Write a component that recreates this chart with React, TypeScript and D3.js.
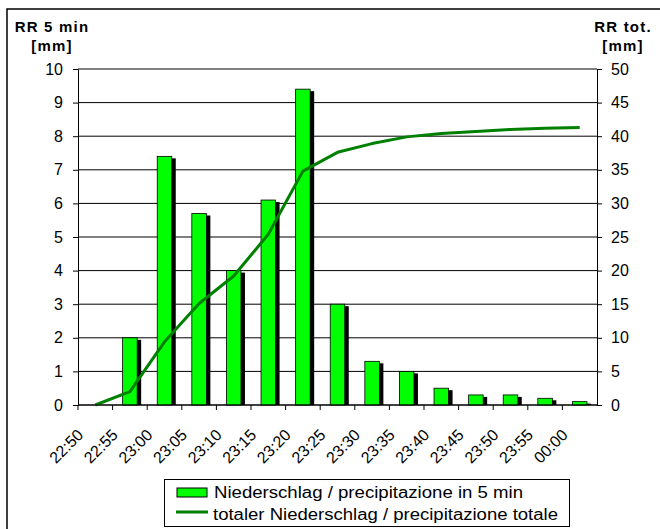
import React, { useRef, useEffect } from 'react';
import * as d3 from 'd3';

// time slots (5 min steps)
const slots = ['22:50', '22:55', '23:00', '23:05', '23:10', '23:15', '23:20', '23:25', '23:30', '23:35', '23:40', '23:45', '23:50', '23:55', '00:00'];
// precipitation per 5 min [mm]
const rr5 = [0, 2.0, 7.4, 5.7, 4.0, 6.1, 9.4, 3.0, 1.3, 1.0, 0.5, 0.3, 0.3, 0.2, 0.1];
// total precipitation [mm]
const rrTot = [0, 2.0, 9.4, 15.1, 19.2, 25.4, 34.8, 37.6, 38.9, 39.9, 40.4, 40.7, 41.0, 41.2, 41.3];

const leftTicks = [0, 1, 2, 3, 4, 5, 6, 7, 8, 9, 10];
const rightTicks = [0, 5, 10, 15, 20, 25, 30, 35, 40, 45, 50];

const legendLabels = ['Niederschlag / precipitazione in 5 min', 'totaler Niederschlag / precipitazione totale'];

const BAR_GREEN = '#00ff00';
const LINE_GREEN = '#008000';
const FONT = '"Liberation Sans", Arial, sans-serif';

const App = () => {
  const svgRef = useRef<SVGSVGElement>(null);

  useEffect(() => {
    const svg = d3.select(svgRef.current);
    svg.selectAll('*').remove();

    const W = 660, H = 529;
    const plot = { left: 78, right: 597, top: 69, bottom: 405 };

    // outer frame
    svg.append('rect')
      .attr('x', 7).attr('y', 9)
      .attr('width', W).attr('height', H)
      .attr('fill', 'white')
      .attr('stroke', '#000')
      .attr('stroke-width', 1.5);

    const x = d3.scaleBand<string>()
      .domain(slots)
      .range([plot.left, plot.right])
      .paddingInner(0)
      .paddingOuter(0);

    const yL = d3.scaleLinear().domain([0, 10]).range([plot.bottom, plot.top]);
    const yR = d3.scaleLinear().domain([0, 50]).range([plot.bottom, plot.top]);

    // gridlines
    svg.append('g')
      .selectAll('line')
      .data(leftTicks)
      .enter()
      .append('line')
      .attr('x1', plot.left)
      .attr('x2', plot.right)
      .attr('y1', d => yL(d))
      .attr('y2', d => yL(d))
      .attr('stroke', '#000')
      .attr('stroke-width', 1);

    // bars with shadow
    const bw = x.bandwidth() * 0.42;
    const bars = svg.append('g');
    const barData = slots.map((s, i) => ({ s, v: rr5[i] })).filter(d => d.v > 0);

    bars.selectAll('.shadow')
      .data(barData)
      .enter()
      .append('rect')
      .attr('class', 'shadow')
      .attr('x', d => (x(d.s) as number) + x.bandwidth() / 2 - bw / 2 + 4)
      .attr('y', d => yL(d.v) + 2)
      .attr('width', bw)
      .attr('height', d => Math.max(0, plot.bottom - yL(d.v) - 2))
      .attr('fill', '#000');

    bars.selectAll('.bar')
      .data(barData)
      .enter()
      .append('rect')
      .attr('class', 'bar')
      .attr('x', d => (x(d.s) as number) + x.bandwidth() / 2 - bw / 2)
      .attr('y', d => yL(d.v))
      .attr('width', bw)
      .attr('height', d => plot.bottom - yL(d.v))
      .attr('fill', BAR_GREEN)
      .attr('stroke', '#000')
      .attr('stroke-width', 0.8);

    // total line
    const line = d3.line<number>()
      .x((d, i) => (x(slots[i]) as number) + x.bandwidth() / 2)
      .y(d => yR(d));

    svg.append('path')
      .datum(rrTot)
      .attr('d', line)
      .attr('fill', 'none')
      .attr('stroke', LINE_GREEN)
      .attr('stroke-width', 3)
      .attr('stroke-linejoin', 'round');

    // left axis
    const gL = svg.append('g')
      .attr('transform', `translate(${plot.left},0)`)
      .call(d3.axisLeft(yL).tickValues(leftTicks).tickSize(5).tickSizeOuter(0).tickPadding(10));
    gL.select('.domain').attr('stroke', '#000');
    gL.selectAll('text').style('font-size', '16px').style('font-family', FONT).style('fill', '#000');

    // right axis
    const gR = svg.append('g')
      .attr('transform', `translate(${plot.right},0)`)
      .call(d3.axisRight(yR).tickValues(rightTicks).tickSize(5).tickSizeOuter(0).tickPadding(9));
    gR.select('.domain').attr('stroke', '#000');
    gR.selectAll('text').style('font-size', '16px').style('font-family', FONT).style('fill', '#000');

    // bottom axis: ticks at category boundaries
    const gB = svg.append('g');
    gB.append('line')
      .attr('x1', plot.left).attr('x2', plot.right)
      .attr('y1', plot.bottom).attr('y2', plot.bottom)
      .attr('stroke', '#000');
    gB.selectAll('.tick')
      .data(slots)
      .enter()
      .append('line')
      .attr('x1', d => x(d) as number)
      .attr('x2', d => x(d) as number)
      .attr('y1', plot.bottom)
      .attr('y2', plot.bottom + 5)
      .attr('stroke', '#000');

    gB.selectAll('.lbl')
      .data(slots)
      .enter()
      .append('text')
      .attr('text-anchor', 'end')
      .attr('transform', d => `translate(${(x(d) as number) + x.bandwidth() / 2 - 11},${plot.bottom + 31}) rotate(-45)`)
      .style('font-size', '16px')
      .style('font-family', FONT)
      .style('fill', '#000')
      .text(d => d);

    // axis titles
    const title = (txt: string, cx: number, y: number) =>
      svg.append('text')
        .attr('x', cx)
        .attr('y', y)
        .attr('text-anchor', 'middle')
        .style('font-size', '15px')
        .style('font-weight', 'bold')
        .style('letter-spacing', '1.2px')
        .style('font-family', FONT)
        .text(txt);

    title('RR 5 min', 52, 32);
    title('[mm]', 52, 51);
    title('RR tot.', 623, 32);
    title('[mm]', 623, 51);

    // legend
    const lg = svg.append('g');
    lg.append('rect')
      .attr('x', 164.5).attr('y', 479.5)
      .attr('width', 405).attr('height', 47)
      .attr('fill', 'white')
      .attr('stroke', '#000')
      .attr('stroke-width', 1);

    lg.append('rect')
      .attr('x', 177).attr('y', 488)
      .attr('width', 30).attr('height', 9)
      .attr('fill', BAR_GREEN)
      .attr('stroke', '#000')
      .attr('stroke-width', 1);

    lg.append('line')
      .attr('x1', 176).attr('x2', 208)
      .attr('y1', 512).attr('y2', 512)
      .attr('stroke', LINE_GREEN)
      .attr('stroke-width', 3);

    const legendWidths = [309, 345];
    lg.selectAll('.ltxt')
      .data(legendLabels)
      .enter()
      .append('text')
      .attr('x', (d, i) => (i === 0 ? 214 : 213))
      .attr('y', (d, i) => 498 + i * 22)
      .attr('textLength', (d, i) => legendWidths[i])
      .attr('lengthAdjust', 'spacingAndGlyphs')
      .style('font-size', '16px')
      .style('font-family', FONT)
      .style('fill', '#000')
      .text(d => d);
  }, []);

  return (
    <div style={{ position: 'absolute', left: 0, top: 0 }}>
      <svg ref={svgRef} width={660} height={529} style={{ display: 'block' }}></svg>
    </div>
  );
};

export default App;
